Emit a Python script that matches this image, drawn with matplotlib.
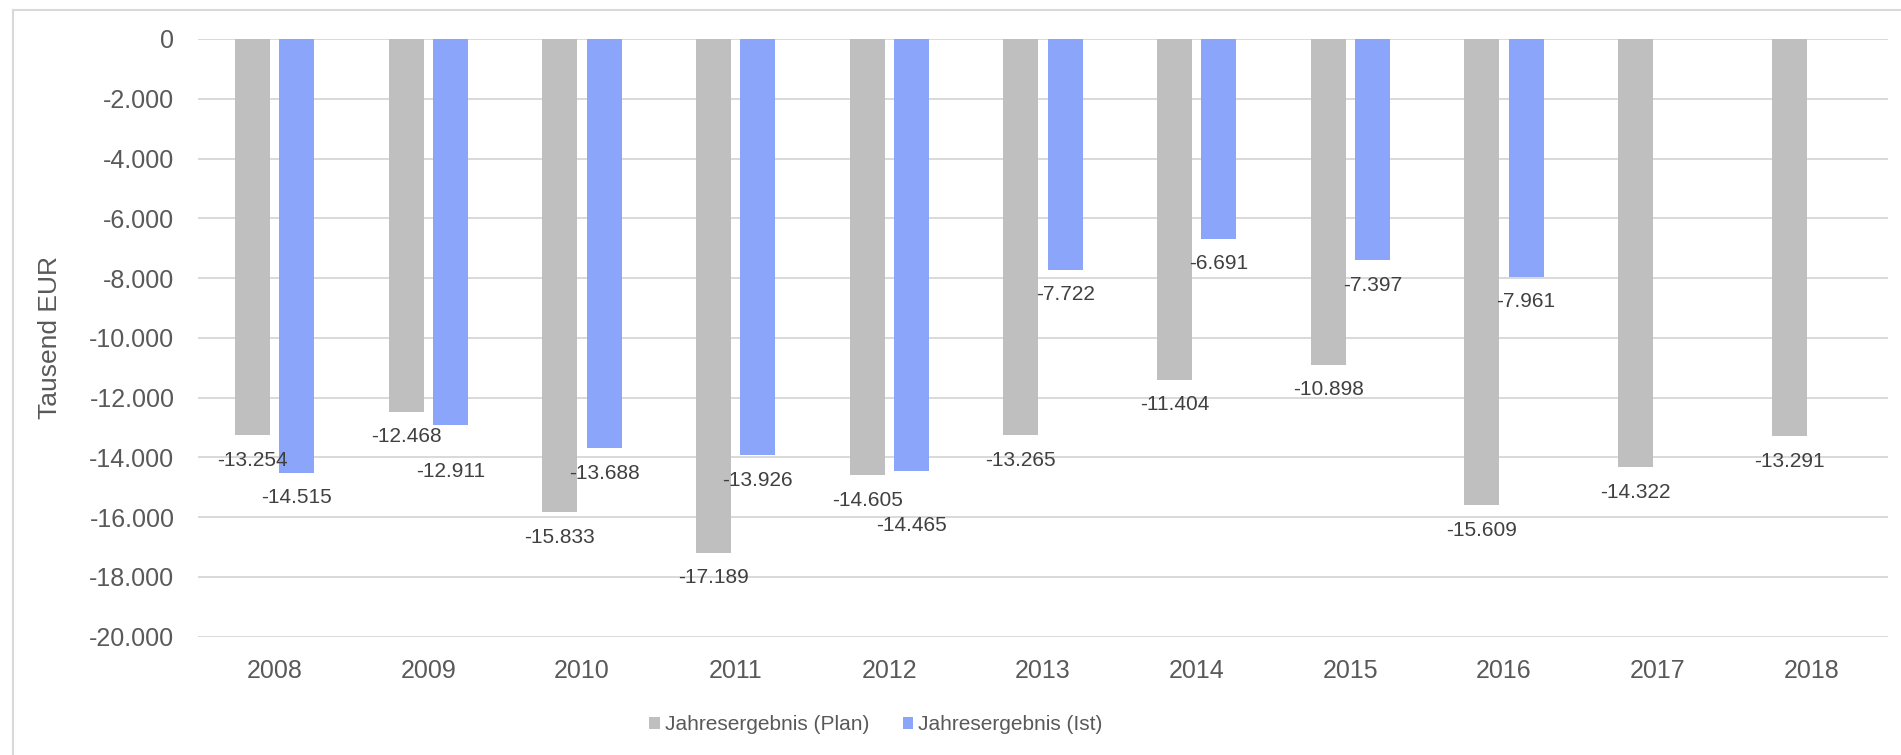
import matplotlib
matplotlib.use("Agg")
import matplotlib.pyplot as plt
from matplotlib.patches import Patch
from matplotlib.lines import Line2D
from matplotlib import font_manager
from matplotlib.ticker import FuncFormatter

# --- data -------------------------------------------------------------
years = ["2008", "2009", "2010", "2011", "2012", "2013", "2014",
         "2015", "2016", "2017", "2018"]
plan = [-13254, -12468, -15833, -17189, -14605, -13265, -11404,
        -10898, -15609, -14322, -13291]
ist = [-14515, -12911, -13688, -13926, -14465, -7722, -6691,
       -7397, -7961, None, None]
series_names = ["Jahresergebnis (Plan)", "Jahresergebnis (Ist)"]
y_ticks = list(range(-20000, 1, 2000))
y_label = "Tausend EUR"

# --- style ------------------------------------------------------------
GRAY = "#BFBFBF"
BLUE = "#8AA5FA"
GRID = "#D9D9D9"
TICK_COLOR = "#595959"
LABEL_COLOR = "#404040"
FONT = "Liberation Sans"

# distance (pixels) of each value label below its bar end;
# a few Ist labels are pushed further down so they clear their neighbours
plan_label_gap = [25] * len(years)
ist_label_gap = [25, 47, 25, 25, 54, 25, 25, 25, 25, 25, 25]


def has_font(name):
    try:
        font_manager.findfont(name, fallback_to_default=False)
        return True
    except Exception:
        return False


LEGEND_FONT = "Liberation Sans Narrow" if has_font("Liberation Sans Narrow") else FONT
LEGEND_SIZE = 17.5 if LEGEND_FONT != FONT else 15

plt.rcParams["font.family"] = [FONT, "DejaVu Sans"]


def de_format(v, _pos=None):
    s = f"{abs(int(round(v))):,}".replace(",", ".")
    return ("-" if v < 0 else "") + s


W, H = 1901, 755
fig = plt.figure(figsize=(W / 100, H / 100), dpi=100)
fig.patch.set_facecolor("white")

ax = fig.add_axes([198 / W, 1 - 636.7 / H, (1888 - 198) / W, (636.7 - 39) / H])
ax.set_facecolor("white")

x = list(range(len(years)))
bw = 0.228
off = 0.144

plan_x = [i - off for i in x]
ist_pts = [(i + off, v, g) for i, v, g in zip(x, ist, ist_label_gap) if v is not None]
ist_x = [p[0] for p in ist_pts]
ist_v = [p[1] for p in ist_pts]

ax.bar(plan_x, plan, width=bw, color=GRAY, zorder=2)
ax.bar(ist_x, ist_v, width=bw, color=BLUE, zorder=2)

for xi, v, g in zip(plan_x, plan, plan_label_gap):
    ax.annotate(de_format(v), (xi, v), xytext=(0, -g), textcoords="offset pixels",
                ha="center", va="center", fontsize=15, color=LABEL_COLOR, zorder=3)
for xi, v, g in ist_pts:
    ax.annotate(de_format(v), (xi, v), xytext=(0, -g), textcoords="offset pixels",
                ha="center", va="center", fontsize=15, color=LABEL_COLOR, zorder=3)

ax.set_xlim(-0.5, len(years) - 0.5)
ax.set_ylim(-20000, 0)
ax.set_yticks(y_ticks)
ax.yaxis.set_major_formatter(FuncFormatter(de_format))
ax.set_xticks(x)
ax.set_xticklabels(years)
ax.tick_params(axis="both", length=0, labelsize=18, colors=TICK_COLOR)
ax.tick_params(axis="y", pad=17)
ax.tick_params(axis="x", pad=16)

ax.grid(axis="y", color=GRID, linewidth=1.4, zorder=0)
ax.set_axisbelow(True)
for s in ax.spines.values():
    s.set_visible(False)

ax.set_ylabel(y_label, fontsize=19, color=TICK_COLOR)
ax.yaxis.set_label_coords((62 - 198) / (1888 - 198), 0.5)

# chart frame (top and left edges)
fig.add_artist(Line2D([13 / W, 13 / W], [1 - 10 / H, 0], transform=fig.transFigure,
                      color=GRID, linewidth=1.5))
fig.add_artist(Line2D([13 / W, 1], [1 - 10 / H, 1 - 10 / H], transform=fig.transFigure,
                      color=GRID, linewidth=1.5))

handles = [Patch(facecolor=GRAY, label=series_names[0]),
           Patch(facecolor=BLUE, label=series_names[1])]
fig.legend(handles=handles, loc="center", bbox_to_anchor=(876 / W, 1 - 725 / H),
           ncol=2, frameon=False, handlelength=0.5, handleheight=0.5,
           handletextpad=0.25, columnspacing=1.6,
           prop={"family": LEGEND_FONT, "size": LEGEND_SIZE}, labelcolor=TICK_COLOR)

fig.savefig("out.png", dpi=100)
